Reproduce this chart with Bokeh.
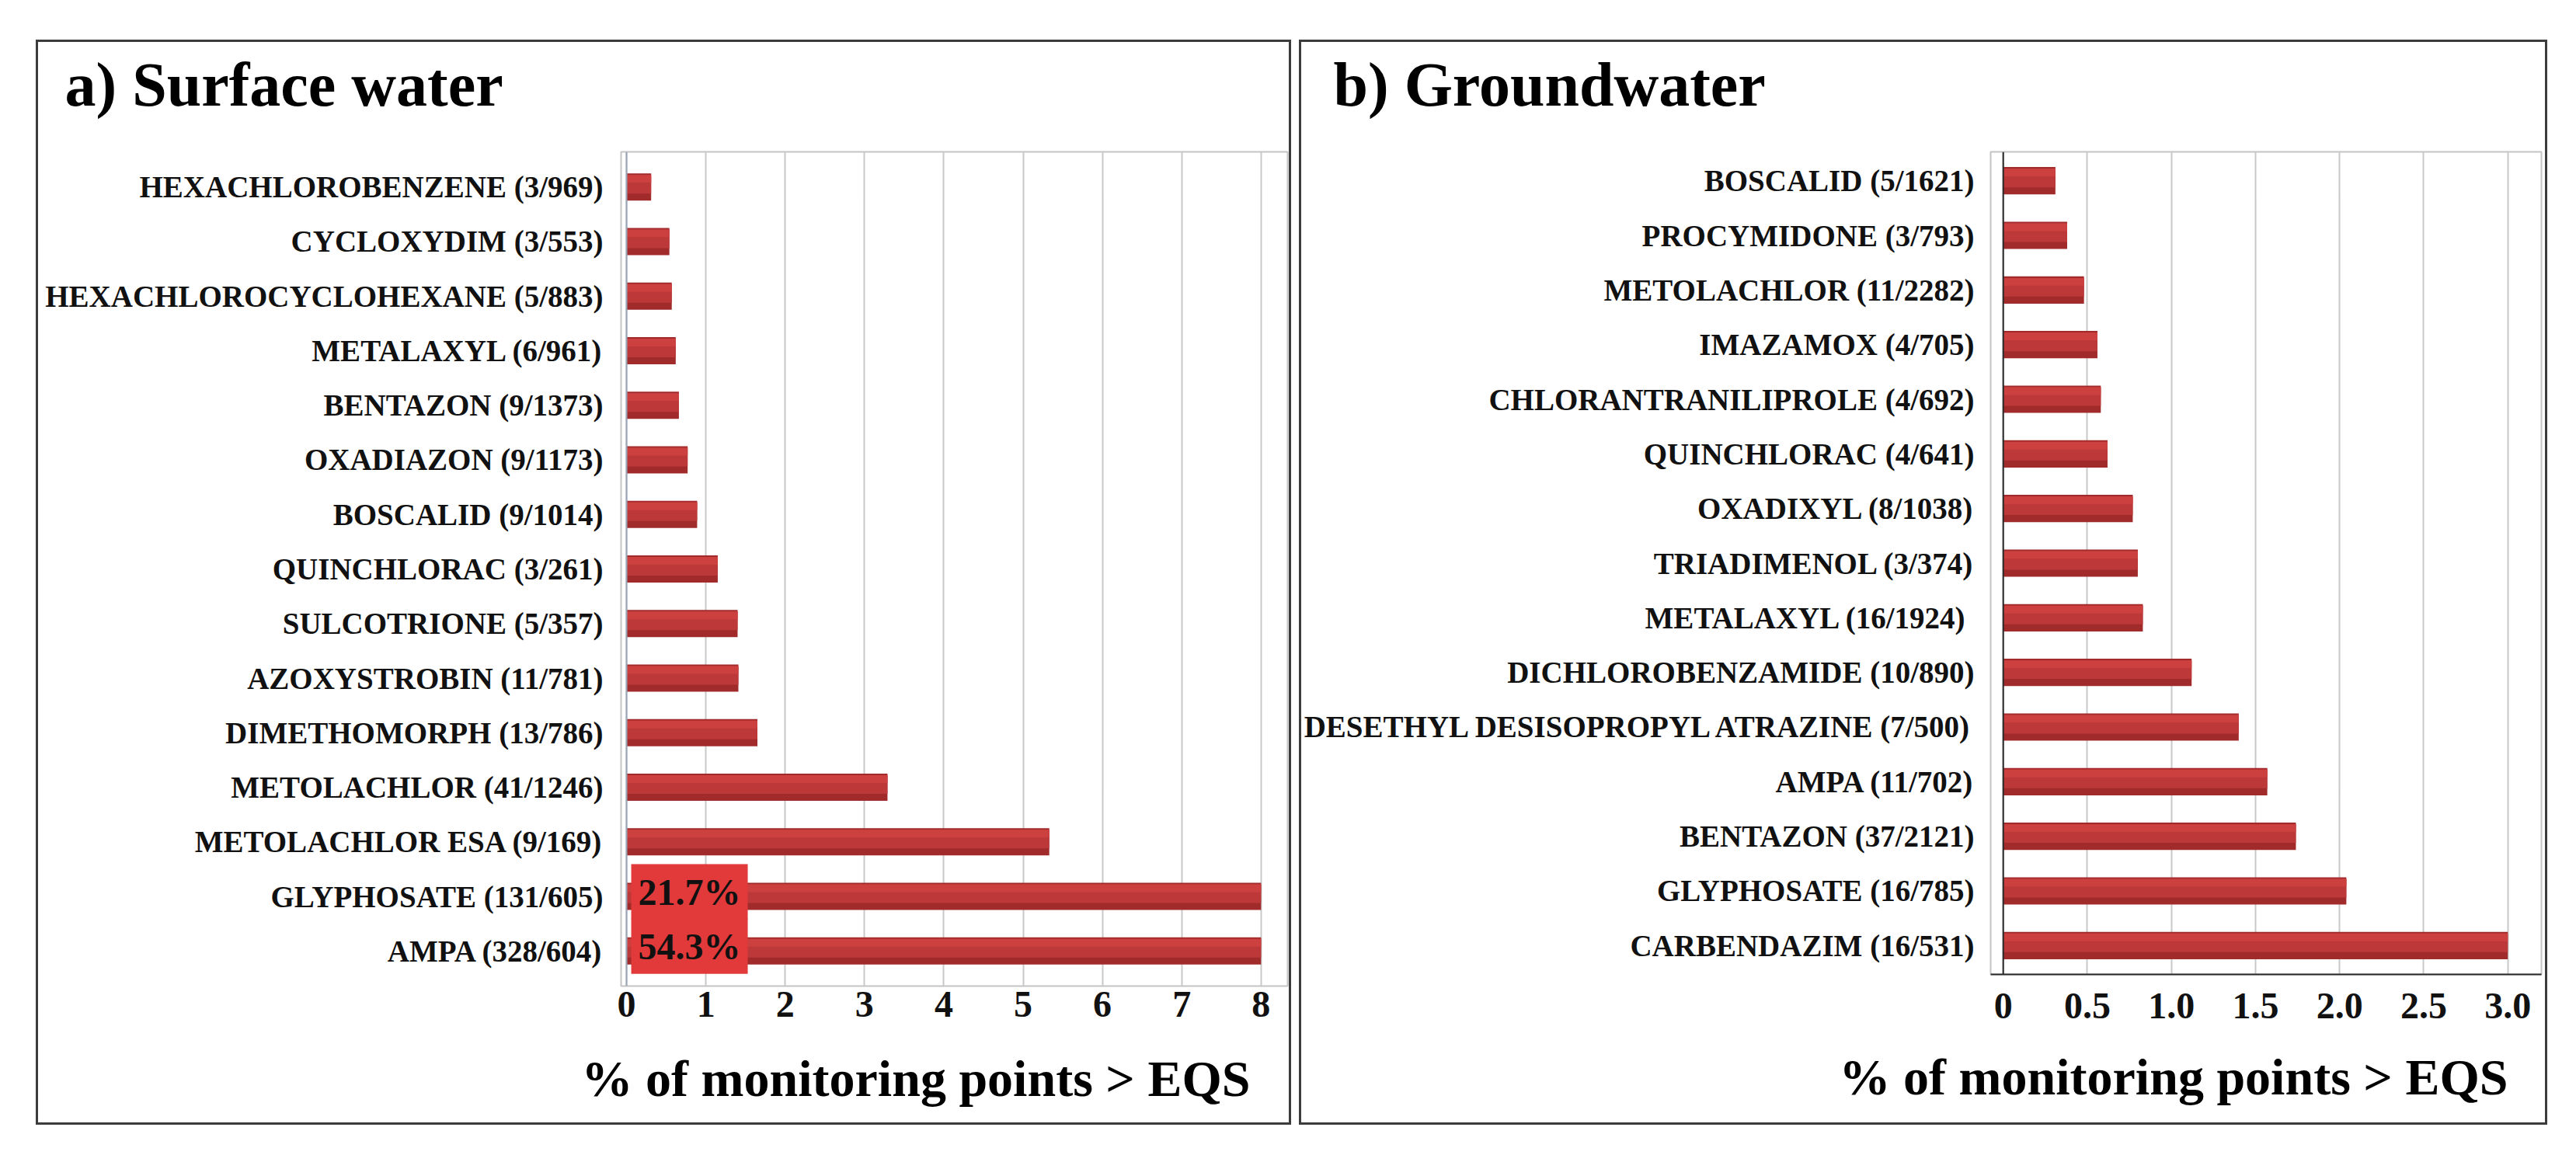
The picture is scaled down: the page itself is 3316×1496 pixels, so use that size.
from bokeh.plotting import figure
from bokeh.models import (FactorRange, Range1d, FixedTicker, Span, ColumnDataSource,
                          Title, Spacer)
from bokeh.layouts import row, column
from bokeh.transform import dodge
from bokeh.embed import file_html
from bokeh.resources import INLINE

FONT = "Liberation Serif"

# ---------------- data ----------------
sw_labels = [
    "HEXACHLOROBENZENE (3/969)", "CYCLOXYDIM (3/553)", "HEXACHLOROCYCLOHEXANE (5/883)",
    "METALAXYL (6/961)", "BENTAZON (9/1373)", "OXADIAZON (9/1173)", "BOSCALID (9/1014)",
    "QUINCHLORAC (3/261)", "SULCOTRIONE (5/357)", "AZOXYSTROBIN (11/781)",
    "DIMETHOMORPH (13/786)", "METOLACHLOR (41/1246)", "METOLACHLOR ESA (9/169)",
    "GLYPHOSATE (131/605)", "AMPA (328/604)",
]
sw_values = [0.31, 0.54, 0.57, 0.62, 0.66, 0.77, 0.89, 1.15, 1.40, 1.41, 1.65, 3.29, 5.33, 21.7, 54.3]
sw_ticks = [0, 1, 2, 3, 4, 5, 6, 7, 8]
sw_tick_labels = ["0", "1", "2", "3", "4", "5", "6", "7", "8"]

gw_labels = [
    "BOSCALID (5/1621)", "PROCYMIDONE (3/793)", "METOLACHLOR (11/2282)", "IMAZAMOX (4/705)",
    "CHLORANTRANILIPROLE (4/692)", "QUINCHLORAC (4/641)", "OXADIXYL (8/1038)",
    "TRIADIMENOL (3/374)", "METALAXYL  (16/1924)", "DICHLOROBENZAMIDE (10/890)",
    "DESETHYL DESISOPROPYL ATRAZINE (7/500)", "AMPA (11/702)", "BENTAZON (37/2121)",
    "GLYPHOSATE (16/785)", "CARBENDAZIM (16/531)",
]
gw_values = [0.31, 0.38, 0.48, 0.56, 0.58, 0.62, 0.77, 0.80, 0.83, 1.12, 1.40, 1.57, 1.74, 2.04, 3.00]
gw_ticks = [0, 0.5, 1.0, 1.5, 2.0, 2.5, 3.0]
gw_tick_labels = ["0", "0.5", "1.0", "1.5", "2.0", "2.5", "3.0"]

x_label = "% of monitoring points > EQS"


def panel(title_text, labels, values, ticks, tick_labels, x_max, xr, pad_pct,
          fw, fh, mb, title_offset, title_pad, cat_standoff, tick_standoff,
          xlab_offset, xlab_pad, zero_color, xaxis_color):
    factors = list(reversed(labels))
    p = figure(
        y_range=FactorRange(factors=factors, range_padding=pad_pct, range_padding_units="percent"),
        x_range=Range1d(xr[0], xr[1]),
        frame_width=fw, frame_height=fh,
        min_border_left=mb[0], min_border_right=mb[1], min_border_top=mb[2], min_border_bottom=mb[3],
        output_backend="svg", toolbar_location=None, tools="",
        styles={"border": "3px solid #3c3c3c"},
    )
    shown = [min(v, x_max) for v in values]
    src = ColumnDataSource(dict(cat=labels, val=values, shown=shown))

    p.hbar(y="cat", left=0, right="shown", height=0.5, source=src,
           fill_color="#a12b2b", line_color=None)
    p.hbar(y=dodge("cat", 0.05, range=p.y_range), left=0, right="shown", height=0.34,
           source=src, fill_color="#bd3838", line_color=None)
    p.hbar(y=dodge("cat", 0.15, range=p.y_range), left=0, right="shown", height=0.14,
           source=src, fill_color="#cc4040", line_color=None)

    # values beyond the axis maximum are written on a red tag
    over = [i for i, v in enumerate(values) if v > x_max]
    if over:
        osrc = ColumnDataSource(dict(cat=[labels[i] for i in over],
                                     txt=["%.1f%%" % values[i] for i in over]))
        p.text(x=0, y="cat", text="txt", source=osrc, x_offset=6, y_offset=-6,
               text_align="left", text_baseline="middle",
               text_font=FONT, text_font_size="48px", text_font_style="bold",
               text_color="#111111", background_fill_color="#e23a3a", padding=9)

    p.add_layout(Span(location=0, dimension="height", line_color=zero_color, line_width=2))

    p.title.text = title_text
    p.title.text_font = FONT
    p.title.text_font_size = "80px"
    p.title.text_font_style = "bold"
    p.title.text_color = "black"
    p.title.align = "left"
    p.title.offset = title_offset
    p.title.standoff = 2
    p.title.padding = dict(left=0, right=0, top=0, bottom=title_pad)

    p.add_layout(Title(text=x_label, align="right", offset=xlab_offset, standoff=2,
                       padding=dict(left=0, right=0, top=xlab_pad, bottom=0),
                       text_font=FONT, text_font_size="66px", text_font_style="bold",
                       text_color="black"), "below")

    p.xaxis.ticker = FixedTicker(ticks=ticks)
    p.xaxis.major_label_overrides = {t: s for t, s in zip(ticks, tick_labels)}
    p.xaxis.major_label_text_font = FONT
    p.xaxis.major_label_text_font_size = "48px"
    p.xaxis.major_label_text_font_style = "bold"
    p.xaxis.major_label_text_color = "#111111"
    p.xaxis.major_label_standoff = tick_standoff
    p.xaxis.major_tick_line_color = None
    p.xaxis.minor_tick_line_color = None
    p.xaxis.axis_line_color = xaxis_color
    p.xaxis.axis_line_width = 2

    p.yaxis.major_label_text_font = FONT
    p.yaxis.major_label_text_font_size = "39px"
    p.yaxis.major_label_text_font_style = "bold"
    p.yaxis.major_label_text_color = "#111111"
    p.yaxis.major_label_standoff = cat_standoff
    p.yaxis.major_tick_line_color = None
    p.yaxis.minor_tick_line_color = None
    p.yaxis.axis_line_color = None

    p.xgrid.ticker = FixedTicker(ticks=ticks)
    p.xgrid.grid_line_color = "#c8c8c8"
    p.xgrid.grid_line_width = 2
    p.ygrid.grid_line_color = None
    p.outline_line_color = "#c4c4c4"
    p.outline_line_width = 2
    p.background_fill_color = "white"
    p.border_fill_color = "white"
    return p


pa = panel("a) Surface water", sw_labels, sw_values, sw_ticks, sw_tick_labels, 8,
           (-0.069, 8.335), 0.0192, 852, 1068, (750, 8, 141, 182),
           -716, 42, 17, 1, 48, 37, "#9aa6b8", None)
pb = panel("b) Groundwater", gw_labels, gw_values, gw_ticks, gw_tick_labels, 3.0,
           (-0.075, 3.2), 0.00387, 703, 1053, (878, 11, 141, 197),
           -846, 42, 15, 18, 43, 33, "#2a2a2a", "#2a2a2a")

layout = column(Spacer(height=51), row(Spacer(width=46), pa, Spacer(width=10), pb))

open("out.html", "w").write(file_html(layout, INLINE))
